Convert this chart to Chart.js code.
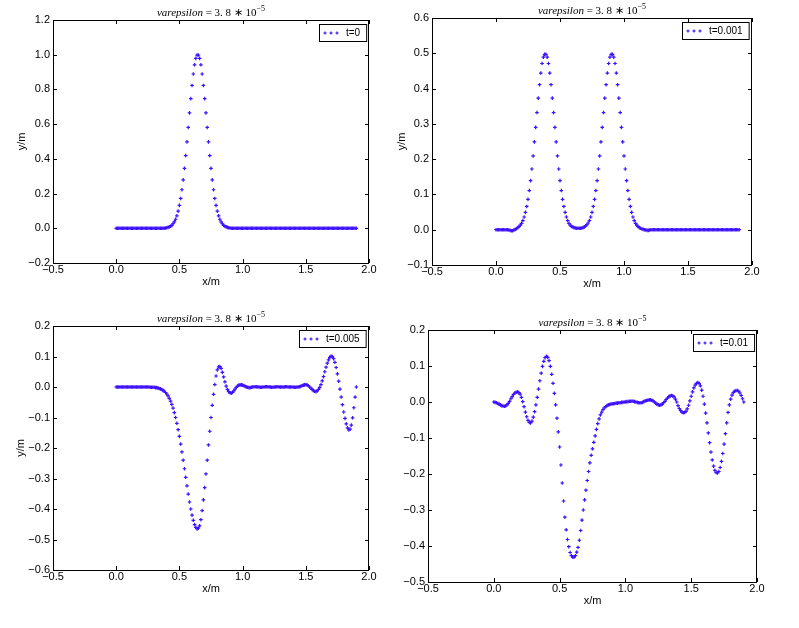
<!DOCTYPE html>
<html>
<head>
<meta charset="utf-8">
<script src="https://cdn.jsdelivr.net/npm/chart.js@4.4.0/dist/chart.umd.min.js"></script>
<style>
  html, body { margin: 0; padding: 0; background: #fff; }
  #wrap { position: relative; width: 799px; height: 628px; overflow: hidden; }
  #wrap canvas { position: absolute; left: 0; top: 0; }
</style>
</head>
<body>
<div id="wrap">
  <canvas id="c1" width="799" height="628"></canvas>
  <canvas id="c2" width="799" height="628"></canvas>
  <canvas id="c3" width="799" height="628"></canvas>
  <canvas id="c4" width="799" height="628"></canvas>
</div>
<script>
// sample positions along x (m)
const xGrid = [
  0.00,0.01,0.02,0.03,0.04,0.05,0.06,0.07,0.08,0.09,
  0.10,0.11,0.12,0.13,0.14,0.15,0.16,0.17,0.18,0.19,
  0.20,0.21,0.22,0.23,0.24,0.25,0.26,0.27,0.28,0.29,
  0.30,0.31,0.32,0.33,0.34,0.35,0.36,0.37,0.38,0.39,
  0.40,0.41,0.42,0.43,0.44,0.45,0.46,0.47,0.48,0.49,
  0.50,0.51,0.52,0.53,0.54,0.55,0.56,0.57,0.58,0.59,
  0.60,0.61,0.62,0.63,0.64,0.65,0.66,0.67,0.68,0.69,
  0.70,0.71,0.72,0.73,0.74,0.75,0.76,0.77,0.78,0.79,
  0.80,0.81,0.82,0.83,0.84,0.85,0.86,0.87,0.88,0.89,
  0.90,0.91,0.92,0.93,0.94,0.95,0.96,0.97,0.98,0.99,
  1.00,1.01,1.02,1.03,1.04,1.05,1.06,1.07,1.08,1.09,
  1.10,1.11,1.12,1.13,1.14,1.15,1.16,1.17,1.18,1.19,
  1.20,1.21,1.22,1.23,1.24,1.25,1.26,1.27,1.28,1.29,
  1.30,1.31,1.32,1.33,1.34,1.35,1.36,1.37,1.38,1.39,
  1.40,1.41,1.42,1.43,1.44,1.45,1.46,1.47,1.48,1.49,
  1.50,1.51,1.52,1.53,1.54,1.55,1.56,1.57,1.58,1.59,
  1.60,1.61,1.62,1.63,1.64,1.65,1.66,1.67,1.68,1.69,
  1.70,1.71,1.72,1.73,1.74,1.75,1.76,1.77,1.78,1.79,
  1.80,1.81,1.82,1.83,1.84,1.85,1.86,1.87,1.88,1.89,
  1.90
];

// y (m) at t = 0
const yT0 = [
  0,0,0,0,0,0,0,0,0,0,
  0,0,0,0,0,0,0,0,0,0,
  0,0,0,0,0,0,0,0,0,0,
  0,0,0,0,0,0,0,0,0,0.002,
  0.003,0.005,0.008,0.012,0.017,0.026,0.037,0.052,0.072,0.099,
  0.132,0.172,0.222,0.279,0.345,0.419,0.498,0.581,0.665,0.747,
  0.823,0.889,0.942,0.979,0.998,0.998,0.979,0.942,0.889,0.823,
  0.747,0.665,0.581,0.498,0.419,0.345,0.279,0.222,0.172,0.132,
  0.099,0.072,0.052,0.037,0.026,0.017,0.012,0.008,0.005,0.003,
  0.002,0,0,0,0,0,0,0,0,0,
  0,0,0,0,0,0,0,0,0,0,
  0,0,0,0,0,0,0,0,0,0,
  0,0,0,0,0,0,0,0,0,0,
  0,0,0,0,0,0,0,0,0,0,
  0,0,0,0,0,0,0,0,0,0,
  0,0,0,0,0,0,0,0,0,0,
  0,0,0,0,0,0,0,0,0,0,
  0,0,0,0,0,0,0,0,0,0,
  0,0,0,0,0,0,0,0,0,0,
  0
];

// y (m) at t = 0.001
const yT1 = [
  0,0,0,0,0,0,0,0,0,0,
  -0.001,-0.002,-0.003,-0.003,-0.001,0.001,0.003,0.006,0.009,0.013,
  0.018,0.026,0.036,0.049,0.066,0.086,0.111,0.139,0.172,0.209,
  0.249,0.290,0.332,0.373,0.411,0.444,0.471,0.489,0.497,0.497,
  0.489,0.471,0.444,0.411,0.373,0.332,0.290,0.249,0.209,0.172,
  0.139,0.111,0.086,0.066,0.049,0.036,0.026,0.018,0.013,0.009,
  0.008,0.006,0.005,0.004,0.004,0.004,0.004,0.005,0.006,0.008,
  0.011,0.014,0.019,0.026,0.036,0.049,0.066,0.086,0.111,0.139,
  0.172,0.209,0.249,0.290,0.332,0.373,0.411,0.444,0.471,0.489,
  0.497,0.497,0.489,0.471,0.444,0.411,0.373,0.332,0.290,0.249,
  0.209,0.172,0.139,0.111,0.086,0.066,0.049,0.036,0.026,0.018,
  0.013,0.009,0.006,0.004,0.002,0.001,0,-0.001,-0.002,-0.002,
  -0.001,0,0,0,0,0,0,0,0,0,
  0,0,0,0,0,0,0,0,0,0,
  0,0,0,0,0,0,0,0,0,0,
  0,0,0,0,0,0,0,0,0,0,
  0,0,0,0,0,0,0,0,0,0,
  0,0,0,0,0,0,0,0,0,0,
  0,0,0,0,0,0,0,0,0,0,
  0
];

// y (m) at t = 0.005
const yT5 = [
  0,0,0,0,0,0,0,0,0,0,
  0,0,0,0,0,0,0,0,0,0,
  0,0,0,0,0,0,0,-0.001,-0.001,-0.001,
  -0.001,-0.002,-0.002,-0.003,-0.005,-0.006,-0.008,-0.011,-0.014,-0.018,
  -0.023,-0.029,-0.037,-0.046,-0.057,-0.069,-0.084,-0.100,-0.119,-0.140,
  -0.162,-0.187,-0.213,-0.240,-0.268,-0.296,-0.324,-0.351,-0.377,-0.400,
  -0.420,-0.437,-0.451,-0.460,-0.465,-0.463,-0.455,-0.435,-0.405,-0.370,
  -0.330,-0.285,-0.240,-0.190,-0.145,-0.100,-0.060,-0.024,0.008,0.036,
  0.056,0.066,0.067,0.061,0.048,0.033,0.017,0.003,-0.008,-0.015,
  -0.019,-0.020,-0.018,-0.013,-0.007,-0.001,0.003,0.006,0.007,0.007,
  0.006,0.004,0.002,0,-0.001,-0.002,-0.002,-0.001,0,0.001,
  0.001,0.001,0,0,-0.001,-0.001,0,0,0.001,0.001,
  0.001,0,0,-0.001,-0.001,0,0,0.001,0.001,0,
  0,0,0,0,0.001,0.001,0,0,0,0,
  0,-0.001,-0.001,0,0,0.001,0.002,0.004,0.006,0.007,
  0.008,0.007,0.004,0,-0.004,-0.008,-0.012,-0.014,-0.015,-0.013,
  -0.008,-0.001,0.008,0.020,0.034,0.050,0.065,0.078,0.089,0.097,
  0.101,0.100,0.093,0.081,0.064,0.043,0.019,-0.007,-0.033,-0.058,
  -0.082,-0.103,-0.121,-0.134,-0.141,-0.138,-0.125,-0.101,-0.068,-0.033,
  0
];

// y (m) at t = 0.01
const yT10 = [
  0,-0.001,-0.002,-0.004,-0.006,-0.008,-0.010,-0.011,-0.012,-0.011,
  -0.008,-0.004,0.002,0.009,0.015,0.021,0.025,0.027,0.028,0.026,
  0.022,0.013,0.001,-0.013,-0.028,-0.041,-0.051,-0.057,-0.058,-0.053,
  -0.042,-0.027,-0.008,0.013,0.036,0.059,0.080,0.099,0.113,0.123,
  0.127,0.124,0.115,0.099,0.077,0.052,0.024,-0.008,-0.045,-0.083,
  -0.125,-0.175,-0.225,-0.275,-0.320,-0.355,-0.382,-0.402,-0.418,-0.427,
  -0.431,-0.431,-0.427,-0.417,-0.404,-0.384,-0.357,-0.328,-0.300,-0.272,
  -0.245,-0.218,-0.193,-0.169,-0.148,-0.130,-0.112,-0.094,-0.076,-0.060,
  -0.047,-0.036,-0.028,-0.021,-0.016,-0.013,-0.010,-0.008,-0.007,-0.006,
  -0.005,-0.005,-0.004,-0.003,-0.003,-0.002,-0.002,-0.001,-0.001,0,
  0,0.001,0.001,0.002,0.002,0.002,0.002,0.001,0,-0.001,
  -0.002,-0.002,-0.002,-0.001,0.001,0.003,0.004,0.005,0.006,0.006,
  0.005,0.003,0,-0.003,-0.006,-0.008,-0.009,-0.008,-0.006,-0.002,
  0.002,0.007,0.011,0.015,0.017,0.018,0.017,0.014,0.008,0,
  -0.010,-0.018,-0.024,-0.028,-0.030,-0.029,-0.026,-0.019,-0.009,0.003,
  0.016,0.028,0.039,0.047,0.052,0.054,0.052,0.045,0.033,0.016,
  -0.006,-0.031,-0.058,-0.086,-0.113,-0.139,-0.161,-0.178,-0.190,-0.196,
  -0.197,-0.193,-0.182,-0.165,-0.143,-0.117,-0.088,-0.058,-0.029,-0.008,
  0.008,0.019,0.026,0.030,0.032,0.032,0.030,0.025,0.018,0.009,
  0
];

const xTicks = [-0.5, 0.0, 0.5, 1.0, 1.5, 2.0];
const yTicks0 = [-0.2, 0.0, 0.2, 0.4, 0.6, 0.8, 1.0, 1.2];
const yTicks1 = [-0.1, 0.0, 0.1, 0.2, 0.3, 0.4, 0.5, 0.6];
const yTicks5 = [-0.6, -0.5, -0.4, -0.3, -0.2, -0.1, 0.0, 0.1, 0.2];
const yTicks10 = [-0.5, -0.4, -0.3, -0.2, -0.1, 0.0, 0.1, 0.2];
const seriesLabels = ['t=0', 't=0.001', 't=0.005', 't=0.01'];

const MARK = '#3d10ff';
const FONT = { family: '"Liberation Sans", Arial, sans-serif', size: 11 };
const Y_W = 44, X_H = 27;

// plot boxes in page pixels
const panels = [
  { id: 'c1', ys: yT0, label: seriesLabels[0], yTicks: yTicks0, area: { l: 53, t: 20, r: 369, b: 263 }, yTitleX: 22, yTitle: true },
  { id: 'c2', ys: yT1, label: seriesLabels[1], yTicks: yTicks1, area: { l: 432, t: 18, r: 752, b: 265 }, yTitleX: 402, yTitle: true },
  { id: 'c3', ys: yT5, label: seriesLabels[2], yTicks: yTicks5, area: { l: 53, t: 326, r: 369, b: 570 }, yTitleX: 21, yTitle: true },
  { id: 'c4', ys: yT10, label: seriesLabels[3], yTicks: yTicks10, area: { l: 428, t: 330, r: 757, b: 582 }, yTitleX: 398, yTitle: false }
];

function fmt(v) {
  const n = Math.abs(v) < 1e-9 ? 0 : v;
  return n.toFixed(1).replace('-', '\u2212');
}

function drawPlus(ctx, x, y, r) {
  ctx.moveTo(x - r, y); ctx.lineTo(x + r, y);
  ctx.moveTo(x, y - r); ctx.lineTo(x, y + r);
}

// frame, inward ticks, mathtext-ish title and boxed legend
const decoPlugin = {
  id: 'deco',
  afterDraw(chart) {
    const { ctx, chartArea: a, scales } = chart;
    const label = chart.data.datasets[0].label;
    ctx.save();
    ctx.strokeStyle = '#000';
    ctx.lineWidth = 1;
    ctx.strokeRect(a.left + 0.5, a.top + 0.5, a.right - a.left - 1, a.bottom - a.top);
    ctx.beginPath();
    scales.x.ticks.forEach(t => {
      const px = Math.round(scales.x.getPixelForValue(t.value)) + 0.5;
      ctx.moveTo(px, a.bottom); ctx.lineTo(px, a.bottom - 4);
      ctx.moveTo(px, a.top); ctx.lineTo(px, a.top + 4);
    });
    scales.y.ticks.forEach(t => {
      const py = Math.round(scales.y.getPixelForValue(t.value)) + 0.5;
      ctx.moveTo(a.left, py); ctx.lineTo(a.left + 4, py);
      ctx.moveTo(a.right, py); ctx.lineTo(a.right - 4, py);
    });
    ctx.stroke();

    // title
    const parts = [
      { text: 'varepsilon', font: 'italic 11px "Liberation Serif", serif', dy: 0 },
      { text: ' = 3. 8 \u2217 10', font: '11px "Liberation Serif", serif', dy: 0 },
      { text: '\u22125', font: '8px "Liberation Serif", serif', dy: -5 }
    ];
    let total = 0;
    parts.forEach(p => { ctx.font = p.font; p.w = ctx.measureText(p.text).width; total += p.w; });
    let tx = (a.left + a.right) / 2 - total / 2;
    const ty = a.top - 4;
    ctx.fillStyle = '#000';
    ctx.textBaseline = 'alphabetic';
    ctx.textAlign = 'left';
    parts.forEach(p => { ctx.font = p.font; ctx.fillText(p.text, tx, ty + p.dy); tx += p.w; });

    // legend
    ctx.font = '10px "Liberation Sans", Arial, sans-serif';
    const lw = 27 + ctx.measureText(label).width + 6;
    const lx = Math.round(a.right - 3 - lw), ly = a.top + 4, lh = 17;
    ctx.fillStyle = '#fff';
    ctx.fillRect(lx, ly, lw, lh);
    ctx.strokeStyle = '#000';
    ctx.strokeRect(lx + 0.5, ly + 0.5, lw, lh);
    ctx.strokeStyle = MARK;
    ctx.lineWidth = 1.2;
    ctx.beginPath();
    [6, 12, 18].forEach(dx => drawPlus(ctx, lx + dx, ly + 9, 1.6));
    ctx.stroke();
    ctx.fillStyle = '#000';
    ctx.textBaseline = 'middle';
    ctx.fillText(label, lx + 27, ly + 9);
    ctx.restore();
  }
};

panels.forEach(p => {
  const a = p.area;
  const lineH = FONT.size * 1.2;
  new Chart(document.getElementById(p.id), {
    type: 'scatter',
    data: {
      datasets: [{
        label: p.label,
        data: xGrid.map((x, i) => ({ x: x, y: p.ys[i] })),
        pointStyle: 'cross',
        pointRadius: 1.8,
        pointHoverRadius: 1.8,
        pointBorderWidth: 1.2,
        pointBorderColor: MARK,
        pointBackgroundColor: MARK,
        showLine: false
      }]
    },
    options: {
      responsive: false,
      animation: false,
      devicePixelRatio: 1,
      events: [],
      layout: {
        padding: { left: a.l - Y_W, top: a.t, right: 799 - a.r, bottom: 628 - a.b - X_H }
      },
      plugins: {
        legend: { display: false },
        tooltip: { enabled: false },
        title: { display: false }
      },
      scales: {
        x: {
          type: 'linear',
          min: -0.5,
          max: 2.0,
          afterBuildTicks: s => { s.ticks = xTicks.map(v => ({ value: v })); },
          afterFit: s => { s.height = X_H; },
          grid: { display: false, drawTicks: false },
          border: { display: false },
          ticks: { padding: 0, color: '#000', font: FONT, callback: fmt, maxRotation: 0, autoSkip: false },
          title: { display: true, text: 'x/m', color: '#000', font: FONT, padding: { top: 0, bottom: 1 } }
        },
        y: {
          type: 'linear',
          min: p.yTicks[0],
          max: p.yTicks[p.yTicks.length - 1],
          afterBuildTicks: s => { s.ticks = p.yTicks.map(v => ({ value: v })); },
          afterFit: s => { s.width = Y_W; },
          grid: { display: false, drawTicks: false },
          border: { display: false },
          ticks: { padding: 3, color: '#000', font: FONT, callback: fmt, autoSkip: false },
          title: {
            display: p.yTitle, text: 'y/m', color: '#000', font: FONT,
            padding: { top: p.yTitleX - (a.l - Y_W) - lineH / 2, bottom: 0 }
          }
        }
      }
    },
    plugins: [decoPlugin]
  });
});
</script>
</body>
</html>
